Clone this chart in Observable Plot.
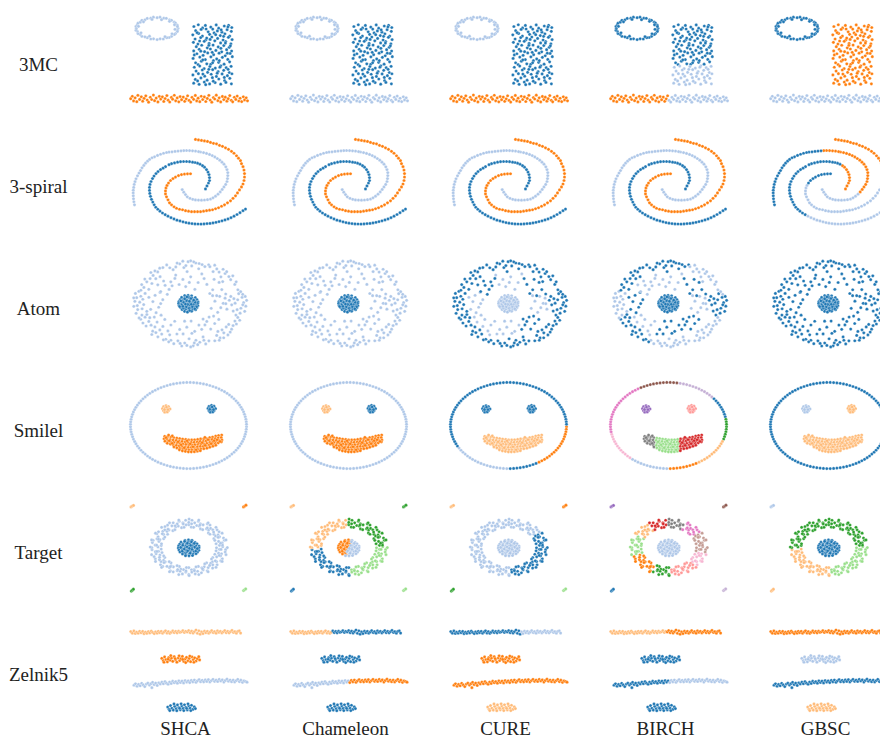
<!DOCTYPE html>
<html><head><meta charset="utf-8">
<script src="https://cdn.jsdelivr.net/npm/d3@7"></script>
<script src="https://cdn.jsdelivr.net/npm/@observablehq/plot@0.6"></script>
<style>html,body{margin:0;padding:0;background:#fff;overflow:hidden;}</style>
</head><body><div id="chart"></div>
<script>
const methods = ["SHCA", "Chameleon", "CURE", "BIRCH", "GBSC"];
const datasets = ["3MC", "3-spiral", "Atom", "Smilel", "Target", "Zelnik5"];
const tab20 = ["#1f77b4","#aec7e8","#ff7f0e","#ffbb78","#2ca02c","#98df8a","#d62728","#ff9896","#9467bd","#c5b0d5","#8c564b","#c49c94","#e377c2","#f7b6d2","#7f7f7f","#c7c7c7","#bcbd22","#dbdb8d","#17becf","#9edae5"];

// ---------- 3MC ----------
const mc3Ring = "53.5,21 53,22.9 52.8,24.2 51,26.3 49.8,27.2 47,29.1 44.6,30.3 42.3,30.5 38.8,31.8 35.6,31.6 32.6,32.4 29,31.6 26.3,31.8 22.8,30.5 20.4,29.6 17.4,29.1 15.7,27.2 13.5,26.3 12.8,24 11.5,22.9 11.8,21.2 11.5,19.1 12.8,17.8 13.5,15.8 15.8,14.8 17.4,12.9 20.5,12.4 22.7,11 26.3,10.8 28.9,9.8 32.6,10.3 35.5,9.8 39.3,10.8 41.8,10.9 45.1,12.4 47,12.9 49.8,14.8 51,15.7 52.8,17.8 52.9,19.1 50.5,22 47.5,26.5 40.5,29.5 25,29 16.5,25.5 14,19 19,14.5 27.5,12 37,12.3 45,14 50,17.5";
const mc3RectTop = "69.4,19.2 73.8,17.4 78.1,20.6 80.9,18.1 86.3,19.8 91.7,17.6 94.2,20.9 99.8,18.7 104.1,17.9 107.3,20.2 71.2,23.4 76.6,22.1 83.7,24.6 88.2,21.8 92.9,23.7 97.4,24.9 102.6,22.4 106.8,24.1 68.3,27.6 74.1,26.2 77.9,28.8 85.1,27.1 89.6,25.7 95.8,28.3 100.4,26.6 105.2,28.9 70.6,31.8 76.2,30.4 81.4,32.6 87.3,29.8 93.1,31.2 98.6,32.8 103.9,30.1 107.6,32.4 68.9,35.2 73.4,36.9 79.7,34.1 84.6,36.3 90.3,33.6 96.1,35.8 101.2,34.4 106.4,36.6 71.8,39.6 77.2,38.1 82.8,40.7 88.6,37.9 93.7,39.8 99.3,38.4 104.7,40.2 69.2,43.8 74.7,42.2 80.1,44.6 85.9,41.9 91.4,43.3 97.2,44.8 102.1,42.6 107.1,43.9 72.4,46.7 78.6,48.3 83.2,45.9 89.1,47.6 94.6,46.1 100.7,48.7 105.6,46.4 68.6,51.4 75.3,50.1 80.8,52.6 86.4,49.8 92.2,51.9 97.9,50.3 103.3,52.4 107.8,49.6 71.1,55.8 76.9,54.2 82.3,56.9 88.9,53.7 94.1,55.4 99.6,57.2 105.1,54.8 73.6,57.6 86.2,57.3 75.1,33.8 87.7,45.3 96.4,41.2 81.6,21.7 102.8,46.1 78.3,52.9 91.2,27.4 84.4,38.2 105.9,38.7 69.8,47.9 99.1,29.1 94.8,53.6 72.6,25.4 88.1,55.8 103.4,19.6 82.2,30.8 96.7,22.6 76.3,44.1 100.9,35.9 85.6,32.2";
const mc3RectBot = "69.8,60.3 75.2,59.1 79.6,61.7 85.4,59.6 90.8,61.2 96.3,58.9 101.7,60.8 106.6,59.4 71.6,64.2 77.8,63.1 83.1,65.4 88.2,62.8 93.6,64.7 99.2,63.4 104.8,65.6 68.4,68.1 73.9,66.8 80.2,69.3 86.7,67.4 91.9,69.6 97.6,67.1 102.9,68.8 107.4,66.9 70.8,72.6 76.4,71.1 82.6,73.4 87.9,70.8 94.3,72.2 100.1,73.7 105.3,71.5 69.2,76.4 74.6,77.6 79.8,75.3 85.1,77.2 90.6,75.8 96.2,77.4 101.4,75.6 106.9,77.1 78.4,67.2 92.7,66.3 84.3,62.4 99.8,70.6 73.1,74.1 88.8,74.4 103.6,62.4 81.2,77.9 95.4,60.2";
const mc3LineL = "6.2,92.1 7.8,89.6 9.1,94.3 10.6,91.2 12.3,95.1 13.4,88.7 15.1,92.8 16.8,90.1 18.2,94.6 19.6,91.7 21.3,89.2 22.7,93.4 24.1,95.6 25.8,90.6 27.2,92.9 28.9,88.4 30.1,94.1 31.7,91.4 33.4,95.3 34.8,89.7 36.2,92.5 37.9,90.2 39.3,94.8 40.6,91.9 42.4,88.9 43.7,93.6 45.2,95.4 46.9,90.8 48.1,92.6 49.8,88.6 51.2,94.2 52.7,91.3 54.3,95.2 55.6,89.9 57.1,93.1 58.8,90.4 60.2,94.7 61.7,92.2 63.1,89.1";
const mc3LineR = "64.6,93.8 66.2,95.5 67.5,90.7 69.1,92.7 70.8,88.8 72.2,94.3 73.6,91.5 75.3,95.1 76.7,89.6 78.2,92.9 79.9,90.3 81.3,94.9 82.8,91.8 84.4,88.7 85.7,93.5 87.3,95.6 88.9,90.9 90.2,92.4 91.8,88.5 93.4,94.1 94.7,91.2 96.2,95.3 97.9,89.8 99.3,93 100.8,90.5 102.4,94.6 103.7,92.1 105.3,88.9 106.8,93.7 108.2,95.2 109.8,90.6 111.3,92.8 112.7,89.4 114.3,94.4 115.6,91.6 117.2,95 118.8,90.1 120.1,93.3 121.7,91.1 123,94.2";
const mc3Labels = {SHCA: "10022", Chameleon: "10011", CURE: "10022", BIRCH: "00121", GBSC: "02211"};

// ---------- 3-spiral ----------
const spiralArmC = "71,10 74,10.5 77,11|80,11.5 83,12 86,13 89,14 92,14.5|95,16 98,17 101,18.5 104,20|107,22 109.5,24 112,26.5 114,29 116,31.5|117,34.5 118.5,37.5 119.5,41 120,44.5|120,48 119.5,51.5 118.5,55 117,58|115,61 113,64 111,67 108.5,69.5|106,72 103,74 100,76 97,77.5|94,79 91,80 88,81 85,81.5|82,82 79,82.5 76,83 73,83 70,83 67,83|64,82.5 61,82 58,81 55,80.5|52,79.5 49.5,78 47,76 45,74|43.5,71 42,68 41,65|41,62 41.5,59 42.5,56.5|44,54 46,51.5 48.5,49.5 51,48|54,46.5 57,45.5 60,45 63,44.8 66,44.7";
const spiralArmB = "81,60 82.5,57 84,54 85,51.5|85,48.5 84.5,45.5 83.5,43|82,40.5 80,38 78,36.5|75.5,35 73,34 70.5,33.3 68,33|65,32.5 62,32.3 59,32.3 56,32.5|53,33 50,33.7 47,34.5 44.5,35.5|41,37.5 38.5,39 36,40.5 33.5,42.5 31.5,44.5|29.5,47 28,49.5 26.5,52.5 25.5,55.5|25,58.5 25,61.5 25.3,64.5 26,67.5|27,70.5 28.3,73.3 29.7,76 31.3,78.5|33.3,80.5 35.5,82.5 38,84.3 40.7,86|43.5,87.5 46.5,89 49.5,90.3 52.5,91.5|55.5,92.3 58.5,93.2 61.5,94 64.5,94.6 67.5,95|70.5,95.3 73.5,95.4 76.5,95.5 79.5,95.3 82.5,95 85.5,94.8|88.5,94.3 91.5,93.7 94.5,93 97.5,92.2 100.5,91.3|103.5,90.3 106.5,89 109.5,87.5 112.5,85.8 115.5,84 118.5,82 121,80.3";
const spiralArmA = "57.7,60.7 59.3,63.3 61,65.7 62.8,68|65.5,69.5 68.3,70.5 71,71.1|74,71.3 77,71.4 80,71.2 83,70.9|86,70.2 88.5,69 91,67.3 93.5,65.3|95.7,63 97.7,60.5 99.5,58 101.2,55.5|102.5,52.5 103,49.5 103.3,46.5 103.3,43.5|102.5,40.5 101.3,37.7 99.5,35 97.5,33|95.3,31 92.8,29.3 90.3,27.7 87.7,26.3|85,25.2 82,24.2 79,23.3 76,22.7 74,22.3|71,21.8 68,21.5 65,21.3 62,21.2 59.3,21.3|56.5,21.5 53.5,21.8 50.5,22.1 47.5,22.5 44.5,22.8|42,23.2 39,24 36,25 33,26.2 30,27.6|27.5,28.5 25,30.2 23,32 21,34 19.3,36.3|17.5,38.7 16,41.5 14.5,44 13,46.8|11.5,49.8 10.5,52.7 9.7,55.5 9.2,58.5 8.8,61.3|8.7,64 8.8,67 9,70 9.4,73 10,76";
// one char per arm segment: arm C (16), arm B (16), arm A (16)
const spiralLabels = {
  SHCA:      "2222222222222222" + "0000000000000000" + "1111111111111111",
  Chameleon: "2222222222222222" + "0000000000000000" + "1111111111111111",
  CURE:      "2222222222222222" + "0000000000000000" + "1111111111111111",
  BIRCH:     "2222222222222222" + "0000000000000000" + "1111111111111111",
  GBSC:      "2222211111111100" + "2220000000011111" + "1111222222000000"
};

// ---------- Atom ----------
const atomCore = "60.2,44.6 63.6,44.3 67.1,44.8 57.1,46.4 60.4,46.7 64.2,46.3 67.3,46.8 70.8,46.5 55.6,48.6 59.1,48.3 62.4,48.7 66.2,48.4 69.3,48.8 72.4,48.5 54.4,50.6 58.1,50.3 61.2,50.7 64.4,50.4 68.1,50.8 71.2,50.5 73.6,50.9 54.1,52.4 57.2,52.7 60.4,52.3 63.6,52.6 67.2,52.4 70.1,52.7 73.1,52.3 54.6,54.6 58.2,54.3 61.4,54.7 65.1,54.4 68.4,54.8 71.6,54.4 73.4,54.7 56.1,56.5 59.4,56.8 63.2,56.4 66.6,56.7 69.9,56.3 72.4,56.7 57.6,58.6 61.1,58.3 64.4,58.7 68.1,58.4 71.1,58.7 60.1,60.4 63.4,60.7 67.1,60.3 59.2,51.4 62.1,49.6 65.7,51.9 68.9,53.6 61.8,55.9 57.3,53.8 64.6,57.4 66.4,47.5 60.3,47.8 70.6,51.3 56.4,49.9 63.2,53.4 67.8,55.7 58.8,57.2 69.2,49.1 62.4,45.9 65.1,59.6 72.1,55.9 55.2,55.6 64.9,50.2 60.9,53.1 66.7,53.3 58.4,55.4 70.3,57.9 62.9,61.2";
const atomShell = [
  "106.3,45.4 110.6,52.2 113.2,48.7 116.4,57.3 119.1,51.6 121.3,55.2 108.7,60.1 114.2,42.6 117.6,46.3 111.4,64.2 120.2,60.4 122.1,49.3 107.2,53.8 109.4,47.6 118.3,53.8 112.6,58.7 104.8,49.2 115.6,62.3 120.7,45.4",
  "90.4,50.2 96.3,56.7 100.6,47.1 93.2,61.4 98.7,52.3 88.1,44.6 102.4,58.2 95.2,45.3 86.7,57.4 101.3,52.7",
  "104.2,73.6 99.3,82.1 110.4,70.2 95.6,87.3 107.1,78.4 101.7,76.2 113.3,66.6 92.2,84.7 97.5,79.1 103.4,84.2 115.2,69.4 90.3,90.1 108.6,74.8 99.2,87.1 93.4,80.7 111.9,73.2 94.8,89.6 105.7,81.3",
  "84.6,66.2 90.2,72.7 80.4,74.1 94.3,68.6 86.2,78.3 78.6,68.2 82.3,70.6 89.1,65.2 77.2,78.6",
  "60.2,92.4 68.7,95.2 75.3,91.6 53.4,90.2 64.6,88.1 81.2,93.3 71.4,89.6 57.2,95.4 78.6,86.2 49.3,93.1 66.2,96.3 84.4,90.2 62.4,94.8 73.2,94.1 55.6,92.8 79.4,89.6 69.8,92.3 46.4,89.6",
  "62.3,76.4 70.2,80.6 58.6,83.2 74.4,74.3 66.6,70.2 55.2,78.7 67.4,82.6 60.1,70.3 52.4,83.3",
  "30.4,76.2 24.3,70.6 37.2,83.4 20.6,66.3 33.4,86.1 28.2,80.4 41.3,88.6 18.4,72.2 26.6,74.4 35.3,79.2 22.4,63.6 44.2,91.2 27.3,83.8 21.6,75.2 38.9,89.2 16.2,68.4 31.4,81.9 25.3,66.8",
  "40.3,68.6 46.4,74.2 36.6,64.3 50.2,70.4 43.4,80.2 32.6,71.3 45.2,84.1 38.4,75.6 29.8,66.2",
  "10.4,50.3 13.2,58.6 16.3,45.2 11.6,62.4 19.2,53.6 14.4,40.2 22.3,60.4 12.2,46.6 17.4,64.2 9.3,55.4 20.6,42.3 15.2,51.2 9.2,46.8 12.8,54.6 17.6,57.8 10.9,42.3 14.6,67.1 18.3,48.2",
  "28.4,50.6 34.2,56.3 30.6,44.2 38.3,48.6 26.2,58.4 35.6,41.3 24.4,46.3 31.6,61.8 36.2,52.6",
  "22.3,30.6 28.6,24.2 19.4,36.3 33.2,20.6 25.6,27.3 38.4,16.2 17.2,33.4 30.4,19.6 24.3,38.2 35.6,25.4 42.2,13.6 27.4,32.3 20.3,27.8 26.4,21.2 35.2,16.8 31.3,27.4 16.4,39.1 45.3,16.4",
  "40.6,34.2 46.3,30.6 36.2,40.4 44.6,38.3 50.4,27.2 33.3,33.6 47.6,34.6 39.1,29.8 42.8,43.2",
  "55.2,12.4 63.6,10.3 71.3,11.6 59.4,16.2 67.2,14.6 77.6,13.2 51.3,15.6 74.2,17.4 62.6,20.3 80.4,15.2 48.6,18.3 69.2,10.4 58.3,9.8 66.2,9.4 74.6,12.1 52.6,11.7 84.2,13.4 61.4,14.2",
  "58.4,28.2 66.2,25.6 73.6,31.3 61.2,35.4 70.4,38.2 54.6,33.3 77.3,22.6 51.2,23.8 64.8,31.2",
  "92.3,17.6 100.6,22.2 106.2,28.4 96.4,25.6 110.3,33.2 88.6,20.3 102.2,20.4 113.4,38.6 98.2,30.4 108.3,24.6 85.4,15.3 116.2,40.6 94.6,20.8 104.4,25.3 111.7,30.6 90.2,13.8 118.2,43.2 98.6,17.9",
  "82.4,33.2 88.2,38.6 94.6,31.2 85.3,42.4 79.6,27.3 92.2,44.6 97.3,38.4 89.6,28.1 101.2,42.9"
];
// core, then shell groups E_out,E_in,SE_out,SE_in,S_out,S_in,SW_out,SW_in,W_out,W_in,NW_out,NW_in,N_out,N_in,NE_out,NE_in
const atomLabels = {
  SHCA:      "01111111111111111",
  Chameleon: "01111111111111111",
  CURE:      "10100010101000100",
  BIRCH:     "00110100110010110",
  GBSC:      "00000000000000000"
};

// ---------- Smilel ----------
const smileRingQ1 = "122,53.8 121.8,56.3 121.4,58.8|120.8,61.3 120,63.8 119.1,66.2|117.9,68.6 116.6,70.9 115.1,73.2|113.4,75.3 111.5,77.5 109.5,79.5|107.3,81.4 105,83.3 102.6,85|100,86.6 97.3,88.1 94.5,89.5|91.5,90.8 88.5,91.9 85.4,92.9|82.2,93.8 79,94.5 75.7,95.1|72.4,95.5 69.1,95.8 65.7,96";
const smileRingQ2 = "62.3,96 58.9,95.8 55.6,95.5|52.3,95.1 49,94.5 45.8,93.8|42.6,92.9 39.5,91.9 36.5,90.8|33.5,89.5 30.7,88.1 28,86.6|25.4,85 23,83.3 20.7,81.4|18.5,79.5 16.5,77.5 14.6,75.3|12.9,73.2 11.4,70.9 10.1,68.6|8.9,66.2 8,63.8 7.2,61.3|6.6,58.8 6.2,56.3 6,53.8";
const smileRingQ3 = "6,51.2 6.2,48.7 6.6,46.2|7.2,43.7 8,41.2 8.9,38.8|10.1,36.4 11.4,34.1 12.9,31.9|14.6,29.7 16.5,27.6 18.5,25.5|20.7,23.6 23,21.7 25.4,20|28,18.4 30.7,16.9 33.5,15.5|36.5,14.2 39.5,13.1 42.6,12.1|45.8,11.2 49,10.5 52.3,9.9|55.6,9.5 58.9,9.2 62.3,9";
const smileRingQ4 = "65.7,9 69.1,9.2 72.4,9.5|75.7,9.9 79,10.5 82.2,11.2|85.4,12.1 88.5,13.1 91.5,14.2|94.5,15.5 97.3,16.9 100,18.4|102.6,20 105,21.7 107.3,23.6|109.5,25.5 111.5,27.6 113.4,29.7|115.1,31.9 116.6,34.1 117.9,36.4|119.1,38.8 120,41.2 120.8,43.7|121.4,46.2 121.8,48.7 122,51.2";
const smileEyeL = "39,33.5 41.5,32.5 44,33.5 38,35.5 40.5,35 43,35.2 45.5,35.8 39,37.5 41.5,37 44,37.6 40.3,39 42.8,38.8 42,34 40,36.4 43.5,36.5";
const smileEyeR = "84.5,33.2 87,32.2 89.5,33 83.5,35.3 86,34.8 88.5,35 91,35.5 84.5,37.5 87,37.2 89.5,37.6 85.8,39 88.3,38.8 87.6,33.8 85.3,36.2 89,36.5";
const smileMouthL = "40.2,63.4 39.6,65.9 40.5,68.3 43.1,63.7 42.6,66.2 43.4,68.6 42.8,70.4 46.3,64.1 45.7,66.7 46.2,69.2 45.9,71.3 49.2,64.7 48.6,67.2 49.4,69.6 48.8,72.1 49.5,74.1 41.5,64.8 44.7,67.9 47.6,70.5 44.1,62.1 47.8,63";
const smileMouthM = "52.3,65.2 51.7,67.6 52.5,70.1 51.9,72.6 52.4,75.1 55.2,65.6 54.6,68.1 55.4,70.6 54.8,73.1 55.3,75.6 54.9,77.1 58.1,66.2 57.6,68.6 58.4,71.1 57.8,73.6 58.3,76.1 57.9,78.1 61.2,66.6 60.7,69.1 61.4,71.6 60.8,74.1 61.3,76.6 60.9,78.6 64.1,67.1 63.6,69.6 64.3,72.1 63.8,74.6 64.4,77.1 63.9,79.1 67.2,67.1 66.7,69.6 67.4,72.1 66.9,74.6 67.3,77.1 66.8,79.1 70.1,66.9 69.6,69.4 70.3,71.9 69.8,74.4 70.4,76.9 69.9,78.9 73.2,66.6 72.7,69.1 73.4,71.6 72.9,74.1 73.3,76.6 72.8,78.4 53.5,69 56.6,72 59.7,75 62.6,68 65.6,71 68.5,74 71.6,77 74.6,70";
const smileMouthR = "76.1,66.1 75.7,68.6 76.4,71.1 75.9,73.6 76.3,76.1 75.8,77.9 79.2,66.1 78.7,68.6 79.4,71.1 78.8,73.6 79.3,75.9 82.1,65.6 81.6,68.1 82.3,70.6 81.8,73.1 82.4,75.4 85.2,64.6 84.7,67.1 85.4,69.6 84.8,72.1 85.3,74.4 88.1,64.1 87.6,66.6 88.3,69.1 87.8,71.6 88.4,73.4 91.2,63.1 90.7,65.6 91.4,68.1 90.8,70.6 91.3,72.4 94.1,62.6 93.6,65.1 94.3,67.6 93.8,70 97.2,62.1 96.7,64.6 97.4,67.1 96.9,69 77.6,69.8 80.6,72.5 83.5,66.8 86.6,70.9 89.6,67.8 92.5,66.9 95.5,68.6 80.4,64.5";
// 36 ring sectors (clockwise from the right), eyeL, eyeR, mouthL, mouthM, mouthR
const smileLabels = {
  SHCA:      "111111111111111111111111111111111111" + "30222",
  Chameleon: "111111111111111111111111111111111111" + "30222",
  CURE:      "222222000111111000000000000000000000" + "00333",
  BIRCH:     "4433332221111ddddcccccccaaaa99990004" + "87e56",
  GBSC:      "000000000000000000000000000000000000" + "13333"
};

// ---------- Target ----------
const targetRing = "92,52.8 98.2,51.7 95,54.3 101.1,54.7 91.6,55.9 100.7,57.1 96.5,54.4 102.8,52.6|94.1,58.2 97,58.8 90.3,59.3 96.1,60.9 92.2,61.9 97.8,63.9 94.7,60.5 101.5,59.7|88.3,62.6 96.3,66 87,64.1 92.1,66.7 87.9,67 92.6,69.9 90.8,66 97.6,66.6|86.1,68.4 88.3,70 82.1,68 88.1,73.3 80.2,69.1 83.7,72.8 85.1,70.6 91.5,72.5|79.7,72 82.8,76 77.3,73 78.6,75 73.8,71.6 76.9,78 78,74 83.6,77|71.5,72.1 73.1,76.5 69.6,74.8 70.7,79.2 67,75 67.3,77.3 69.9,75.9 74.3,79.8|64.3,72.8 64.3,79.7 61.9,72.7 61.3,77.3 59,74.8 57.9,79.2 61.5,76.1 64.6,80.8|56.3,74.3 55.5,76.5 54.8,71.6 52.7,75.9 52.6,70.9 48.7,77.1 53.2,74.8 54.3,79.8|48.9,72 45.8,76 46.6,71 44.9,72.8 46.5,68 42.5,71.5 45.8,71.9 45,77|44.7,66.8 38.2,71.6 40.7,67 36,69.9 39.1,65.4 36.5,66.7 39.5,67.7 37.1,72.5|40.3,62.6 35,64.8 39.2,61 30.8,63.9 35.4,60.1 29.6,61.7 35,62.4 31,66.6|37.5,57.6 31.6,58.8 34,56.3 30.9,56.7 36.7,54.1 27.5,54.7 32.5,56.5 27.1,59.7|33.5,52 27.3,52.6 36.7,50.5 30.6,50.1 37,48.7 27.9,47.5 32.1,50.2 25.8,52|34.5,46.4 28.6,45.2 35.4,44.5 32.5,43.7 39.2,43.6 33.6,41.7 33.9,44.1 27.1,44.9|40.3,42 32.3,38.6 39.1,39.2 34,36.6 43.1,39.1 38.3,36.2 37.8,38.6 31,38|42.5,36.2 40.3,34.6 44.5,34.8 40.5,31.3 48.4,35.5 43.1,29.9 43.5,34 37.1,32.1|50.4,34.5 47.4,30.6 51.3,31.6 48.7,27.5 53.8,30.9 52.7,28.7 50.6,30.6 45,27.6|57.1,32.5 54.7,25.9 59.5,32.1 58.4,27.6 61.6,29.6 61.1,25 58.7,28.7 54.3,24.8|64.3,29.5 64.3,27.2 66.7,31.9 67.5,25 69.1,32.1 70.2,27.6 67.1,28.5 64.6,23.8|72.3,30.3 73.9,25.9 74.8,30.9 75.9,28.7 76,33.7 78.6,29.6 75.4,29.8 74.3,24.8|78.2,34.5 82.8,28.6 82,33.6 85.5,29.9 84.1,34.8 86.1,33.1 82.8,32.7 83.6,27.6|83.9,37.8 88.3,34.6 85.5,39.1 92.6,34.7 89.5,39.2 94.6,36.6 89.1,36.9 91.5,32.1|91,40.9 93.6,39.8 89.4,43.6 95,41.7 90.3,45.3 99,42.9 93.6,42.2 97.6,38|94.1,46.4 100,45.2 91.6,48.7 97.7,47.9 95,50.3 98,50.1 96.1,48.1 101.5,44.9";
const targetCoreA = "60.5,45.2 64,44.9 56.5,47.1 60,46.8 63.5,47.2 55,49.2 58.5,48.8 62,49.1 65.5,48.9 54,51.1 57.5,50.8 61,51.2 64.5,50.9 53.8,53 57,53.2 60.5,52.8 64,53.1 54.5,55.1 58,54.8 61.5,55.2 55.5,57 59,57.3 58,59 61.5,59.2 58.3,50.2 62.6,51.9 59.6,54.1 56.2,52.4 61.1,57.9 62.8,48.1 66.3,46.1 57.7,56.2 60.2,46.2";
const targetCoreB = "67.5,45.3 67,46.9 70.5,47.3 69,49.3 72.5,48.8 68,51.3 71.5,50.9 74.5,51.1 67.5,52.9 71,53.2 74.5,52.8 65,54.9 68.5,55.3 72,54.9 74.3,55.4 62.5,56.9 66,57.2 69.5,56.8 73,57.1 65,58.9 68.5,59.1 71.5,58.8 61,60.8 64.5,60.9 68,60.6 66.1,50.4 70.2,52.1 63.2,55.8 67.4,54.3 71.3,56.1 65.6,58.2 69.8,48.3 72.8,53.6 64.9,53.3";
const targetTL = "6.5,11.5 7.7,10.7 9,10";
const targetTR = "119,11.5 120.3,10.7 121.5,9.8";
const targetBL = "6.8,96.5 7.8,95.6 8.9,94.6";
const targetBR = "119,96 120,95.2 121.2,94.3";
// 24 ring sectors (15 deg each, clockwise from the right), coreA, coreB, TL, TR, BL, BR
const targetLabels = {
  SHCA:      "111111111111111111111111" + "003245",
  Chameleon: "555555000000333333444444" + "213405",
  CURE:      "000000111111111111111100" + "113245",
  BIRCH:     "bdd777442225553366eeccbb" + "118a09",
  GBSC:      "555555333333444444444444" + "001234"
};

// ---------- Zelnik5 ----------
const zelBand1 = "6.3,14.2 7.9,15.8 9.4,13.6 10.8,16.1 12.2,14.7 13.7,15.9 15.1,13.9 16.6,15.4 18.2,14.1 19.5,16.3|21,14.8 22.4,16 23.9,14.2 25.3,15.6 26.8,13.7 28.2,15.1 29.7,16.2 31.1,14.4 32.6,15.8 33.8,13.9|35.2,15.3 36.7,14 38.1,15.9 39.6,14.6 41,13.5 42.5,15.7 43.9,14.3 45.4,16 46.8,14.8|48.3,13.6 49.7,15.2 51.2,14.1 52.6,15.5 54.1,13.8 55.5,15 57,14.4 58.4,13.3 59.9,15.1 61.3,13.9|62.8,14.6 64.2,13.1 65.7,15.3 67.1,13.8 68.6,15.7 70,14.2 71.5,12.6 72.9,15.9 74.4,13.4 75.6,16.8|77.1,14.5 78.5,16.2 80,13.8 81.4,15.4 82.9,14 84.3,15.9 85.8,14.6 87.2,13.3 88.7,15.2|90.1,14.3 91.6,15.8 93,13.5 94.5,15 95.9,14.1 97.4,15.6 98.8,14.4 100.3,13.2 101.7,15.3 103.2,14|104.6,15.5 106.1,14.2 107.5,13 109,15.1 110.4,14.3 111.9,15.8 113.3,14 114.8,13.6 116.1,15.7";
const zelBand2 = "37.3,41.2 38.8,43.6 40.1,39.8 41.5,42.4 42.9,44.8 44.2,40.6 45.6,43.1 47,41 48.3,44.2 49.7,39.5 51.1,42.7 52.4,45.1 53.8,40.9 55.2,43.5 56.5,41.6 57.9,39.3 59.3,44.3 60.6,42 62,40.2 63.4,43.7 64.7,41.3 66.1,44.6 67.5,39.8 68.8,42.5 70.2,40.7 71.6,43.9 72.9,41.6 74.3,39.6 75.1,42.8 39.5,45.2 46.3,38.4 54.6,38.6 61.2,45.5 69.4,45.2 43.6,42.1 58.2,42.3 65.3,38.9 50.6,41.5";
const zelBand3 = "9.5,68.3 11,66.9 12.6,69.4 14.1,67.6 15.7,68.9 17.2,66.4 18.8,68.1 20.3,69.7 21.9,67.2|23.4,66.3 25,68.2 26.5,66.8 28.1,65.4 29.6,67.7 31.2,66.2 32.7,68.6 34.3,65.9 35.8,67.1 27.4,70.8|37.4,65.2 38.9,66.9 40.5,64.6 42,66.3 43.6,67.4 45.1,65.1 46.7,66.6 48.2,64.3 49.8,65.8|51.3,64.7 52.9,66.3 54.4,63.9 56,65.6 57.5,64.2 59.1,66.1 60.6,63.6 62.2,65.2 63.7,64|65.3,65.7 66.8,63.5 68.4,64.9 69.9,63.1 71.5,65.4 73,63.9 74.6,62.7 76.1,64.8 77.7,63.4|79.2,64.9 80.8,63 82.3,64.5 83.9,62.8 85.4,65.1 87,63.6 88.5,62.4 90.1,64.4 91.6,63.2|93.2,64.6 94.7,62.5 96.3,64.1 97.8,63 99.4,65.2 100.9,63.5 102.5,62.2 104,64.3 105.6,63.1|107.1,64.8 108.7,63.2 110.2,65.1 111.8,63.6 113.3,62.4 114.9,64.7 116.4,63.3 118,65.4 119.5,63.9 121.1,64.6 122.5,65.3";
const zelBand4 = "43.2,90.4 44.6,92.7 46,88.9 47.4,91.6 48.8,93.5 50.2,89.7 51.6,92.1 53,88.3 54.4,90.9 55.8,93.2 57.2,89.4 58.6,91.8 60,88.1 61.4,90.6 62.8,93.4 64.2,89.2 65.6,91.5 67,88.6 68.4,92.8 69.8,90.2 70.9,92 45.3,94 52.3,94.1 59.3,94 66.3,94 49.5,87.3 56.6,87.1 63.5,87.2 62.1,91.7 55.1,91.6";
// band1 (8 segments), band2, band3 (8 segments), band4
const zelLabels = {
  SHCA:      "33333333" + "2" + "11111111" + "0",
  Chameleon: "33300000" + "0" + "11112222" + "0",
  CURE:      "00000111" + "2" + "22222222" + "3",
  BIRCH:     "33332222" + "0" + "00001111" + "0",
  GBSC:      "22222222" + "1" + "00000000" + "3"
};

// ---------- assemble ----------
const seg = s => s.split("|");
const parsePts = s => s.trim().split(/\s+/).map(p => p.split(",").map(Number));
const table = [
  ["3MC", [mc3Ring, mc3RectTop, mc3RectBot, mc3LineL, mc3LineR], mc3Labels],
  ["3-spiral", [...seg(spiralArmC), ...seg(spiralArmB), ...seg(spiralArmA)], spiralLabels],
  ["Atom", [atomCore, ...atomShell], atomLabels],
  ["Smilel", [...seg(smileRingQ1), ...seg(smileRingQ2), ...seg(smileRingQ3), ...seg(smileRingQ4), smileEyeL, smileEyeR, smileMouthL, smileMouthM, smileMouthR], smileLabels],
  ["Target", [...seg(targetRing), targetCoreA, targetCoreB, targetTL, targetTR, targetBL, targetBR], targetLabels],
  ["Zelnik5", [...seg(zelBand1), zelBand2, ...seg(zelBand3), zelBand4], zelLabels]
];
const rows = [];
for (const [ds, groups, labels] of table) {
  for (const m of methods) {
    const spec = labels[m];
    if (spec.length !== groups.length) console.warn(ds, m, spec.length, groups.length);
    groups.forEach((g, gi) => {
      const c = parseInt(spec[gi] ?? "0", 20);
      for (const [x, y] of parsePts(g)) rows.push({ds, method: m, x, y, fill: tab20[c]});
    });
  }
}

const chart = Plot.plot({
  width: 894,
  height: 738,
  marginLeft: 124,
  marginRight: 0,
  marginTop: 4,
  marginBottom: 14,
  style: {fontFamily: "'Liberation Serif', 'Times New Roman', serif", fontSize: "19px", color: "#222", background: "#fff", maxWidth: "none", overflow: "visible"},
  x: {domain: [0, 130], axis: null},
  y: {domain: [0, 105], reverse: true, axis: null},
  fx: {domain: methods, paddingInner: 0.1875, paddingOuter: 0},
  fy: {domain: datasets, paddingInner: 0.1463, paddingOuter: 0},
  color: {type: "identity"},
  marks: [
    Plot.dot(rows, {x: "x", y: "y", fx: "method", fy: "ds", r: 1.6, fill: "fill", stroke: "white", strokeWidth: 0.3}),
    Plot.axisFy({anchor: "left", tickSize: 0, tickPadding: 86, textAnchor: "middle", dy: 5, label: null, fontSize: 19}),
    Plot.axisFx({anchor: "bottom", tickSize: 0, tickPadding: 0, dx: -4, label: null, fontSize: 19})
  ]
});
document.getElementById("chart").appendChild(chart);
</script></body></html>
